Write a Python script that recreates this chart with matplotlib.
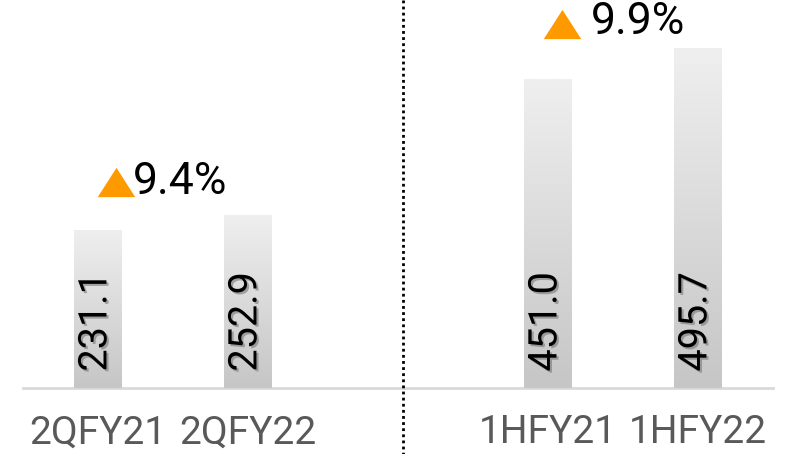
import matplotlib.pyplot as plt
import matplotlib.patheffects as pe
import numpy as np
from matplotlib.colors import LinearSegmentedColormap

# Chart data
categories = ['2QFY21', '2QFY22', '1HFY21', '1HFY22']
values = [231.1, 252.9, 451.0, 495.7]
growth_labels = ['9.4%', '9.9%']

# Layout: two groups of bars separated by a dotted divider
x_pos = [0, 1, 3, 4]
bar_width = 0.32

fig = plt.figure(figsize=(7.89, 4.54), dpi=100)
ax = fig.add_axes([0, 66 / 454, 1, 388 / 454])

# Bars with vertical gray gradient
cmap = LinearSegmentedColormap.from_list('bar_grad', ['#C6C6C6', '#EFEFEF'])
bars = ax.bar(x_pos, values, width=bar_width, color='none', edgecolor='none', zorder=2)
grad = np.linspace(0, 1, 256).reshape(-1, 1)
for bar in bars:
    x0, y0 = bar.get_xy()
    im = ax.imshow(grad, extent=[x0, x0 + bar.get_width(), y0, y0 + bar.get_height()],
                   origin='lower', cmap=cmap, aspect='auto', zorder=2)
    im.set_clip_path(bar)

# Value labels inside the bars, rotated
shadow = [pe.SimplePatchShadow(offset=(1.5, -1.5), shadow_rgbFace='#777777', alpha=0.6),
          pe.Normal()]
for xp, v in zip(x_pos, values):
    ax.text(xp - 0.02, 24, f'{v:.1f}', rotation=90, ha='center', va='bottom',
            fontsize=28.5, family='Roboto', color='black', path_effects=shadow, zorder=4)

# Growth annotations: orange triangle + percentage
tri = [(-1, -0.78), (1, -0.78), (0, 0.78)]
growth_marks = [(0.12, 301, 0.235, 301), (3.093, 531, 3.285, 535)]
for (tx, ty, lx, ly), lab in zip(growth_marks, growth_labels):
    ax.plot(tx, ty, marker=tri, markersize=27, color='#FF9900', markeredgewidth=0,
            linestyle='none', zorder=4, clip_on=False)
    ax.text(lx, ly, lab, ha='left', va='center', fontsize=32, family='Roboto',
            color='black', zorder=4)

# Baseline and divider
ax.plot([-0.5, 4.5], [0, 0], color='#D9D9D9', linewidth=2, zorder=1, clip_on=False)
ax.plot([2.033, 2.033], [-100, 570], color='black', linestyle=(0, (1, 1.2)), linewidth=2,
        zorder=1, clip_on=False)

ax.set_xlim(-0.653, 4.607)
ax.set_ylim(0, 566.4)
ax.set_xticks(x_pos)
ax.set_xticklabels(categories, fontsize=28, family='Roboto', color='#595959')
ax.tick_params(axis='x', length=0, pad=19)
ax.set_yticks([])
for s in ax.spines.values():
    s.set_visible(False)

plt.savefig('out.png', dpi=100, facecolor='white')
